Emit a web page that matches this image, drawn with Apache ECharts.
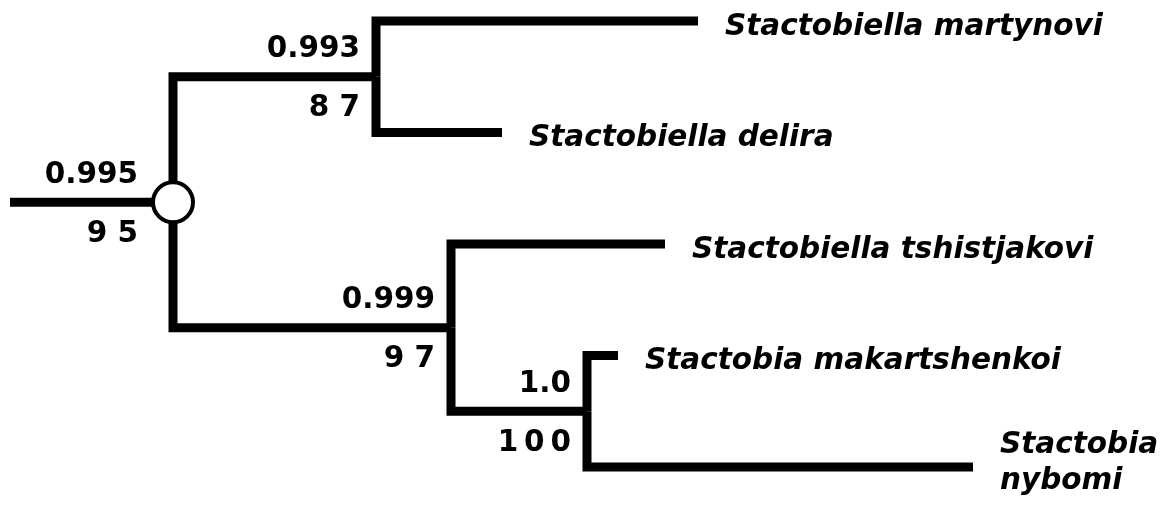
<!DOCTYPE html>
<html>
<head>
<meta charset="utf-8">
<script src="https://cdn.jsdelivr.net/npm/echarts@6/dist/echarts.min.js"></script>
<style>
html,body{margin:0;padding:0;background:#fff;}
#chart{width:1176px;height:523px;}
</style>
</head>
<body>
<div id="chart"></div>
<script>
// ---- data ----
const leafNames = ['Stactobiella martynovi', 'Stactobiella delira', 'Stactobiella tshistjakovi', 'Stactobia makartshenkoi', 'Stactobia\nnybomi'];
const leafDepths = [68.8, 49.2, 65.5, 60.8, 96.3];
const leafParents = ['A', 'A', 'B', 'C', 'C'];
const nodeIds = ['root', 'A', 'B', 'C'];
const nodeDepths = [16.3, 36.6, 44.1, 57.7];
const nodeParents = [null, 'root', 'root', 'B'];
const posterior = ['0.995', '0.993', '0.999', '1.0'];
const bootstrap = ['9 5', '8 7', '9 7', '1\u20090\u20090'];
const rootStemDepth = 0;

// ---- build tree layout (y = leaf order, internal = mean of children) ----
const nodes = {};
nodeIds.forEach((id, i) => { nodes[id] = { id, depth: nodeDepths[i], parent: nodeParents[i], children: [], idx: i }; });
const leaves = leafNames.map((n, i) => ({ id: 'leaf' + i, name: n, depth: leafDepths[i], parent: leafParents[i], y: i, leaf: true }));
leaves.forEach(l => nodes[l.parent].children.push(l));
nodeIds.forEach(id => { const p = nodes[id].parent; if (p) nodes[p].children.push(nodes[id]); });
function yOf(n) {
  if (n.leaf) return n.y;
  const ys = n.children.map(yOf);
  n.y = ys.reduce((a, b) => a + b, 0) / ys.length;
  return n.y;
}
yOf(nodes.root);

const branchData = [];
branchData.push([rootStemDepth, nodes.root.y, nodes.root.depth, nodes.root.y, 0]);
const all = leaves.concat(nodeIds.filter(id => nodes[id].parent).map(id => nodes[id]));
all.forEach(n => {
  const p = nodes[n.parent];
  branchData.push([p.depth, p.y, n.depth, n.y, 1]);
});
const nodeData = nodeIds.map((id, i) => [nodes[id].depth, nodes[id].y, i]);
const leafData = leaves.map((l, i) => [l.depth, l.y, i]);

const FONT = '"DejaVu Sans", sans-serif';
const FS = 29.5;

const chart = echarts.init(document.getElementById('chart'));
chart.setOption({
  animation: false,
  backgroundColor: '#fff',
  grid: { left: 10, right: 0, top: 21, bottom: 56 },
  xAxis: { type: 'value', min: 0, max: 116.6, show: false },
  yAxis: { type: 'value', min: 0, max: 4, inverse: true, show: false },
  series: [
    {
      type: 'custom', clip: false, data: branchData,
      renderItem: function (params, api) {
        const p0 = api.coord([api.value(0), api.value(1)]);
        const p1 = api.coord([api.value(2), api.value(3)]);
        const pts = api.value(4) === 0 ? [p0, p1] : [p0, [p0[0], p1[1]], p1];
        return { type: 'polyline', shape: { points: pts },
          style: { stroke: '#000', lineWidth: 9, fill: null, lineJoin: 'miter', lineCap: 'butt' } };
      }
    },
    {
      type: 'custom', clip: false, data: nodeData, z: 3,
      renderItem: function (params, api) {
        const c = api.coord([api.value(0), api.value(1)]);
        const i = api.value(2);
        const children = [];
        if (i === 0) {
          children.push({ type: 'circle', shape: { cx: c[0], cy: c[1], r: 20 },
            style: { fill: '#fff', stroke: '#000', lineWidth: 4 } });
        }
        const dx = i === 0 ? -35 : -16;
        children.push({ type: 'text', x: c[0] + dx, y: c[1] - 27,
          style: { text: posterior[i], fill: '#000', fontSize: FS, fontWeight: 'bold', fontFamily: FONT, align: 'right', verticalAlign: 'middle' } });
        children.push({ type: 'text', x: c[0] + dx, y: c[1] + 32,
          style: { text: bootstrap[i], fill: '#000', fontSize: FS, fontWeight: 'bold', fontFamily: FONT, align: 'right', verticalAlign: 'middle' } });
        return { type: 'group', children: children };
      }
    },
    {
      type: 'custom', clip: false, data: leafData, z: 3,
      renderItem: function (params, api) {
        const c = api.coord([api.value(0), api.value(1)]);
        const i = api.value(2);
        const multi = leafNames[i].indexOf('\n') >= 0;
        return { type: 'text', x: c[0] + 27, y: c[1] + (multi ? -4 : 6),
          style: { text: leafNames[i], fill: '#000', fontSize: FS, fontWeight: 'bold', fontStyle: 'italic', fontFamily: FONT,
            align: 'left', verticalAlign: 'middle', lineHeight: 36 } };
      }
    }
  ]
});
</script>
</body>
</html>
